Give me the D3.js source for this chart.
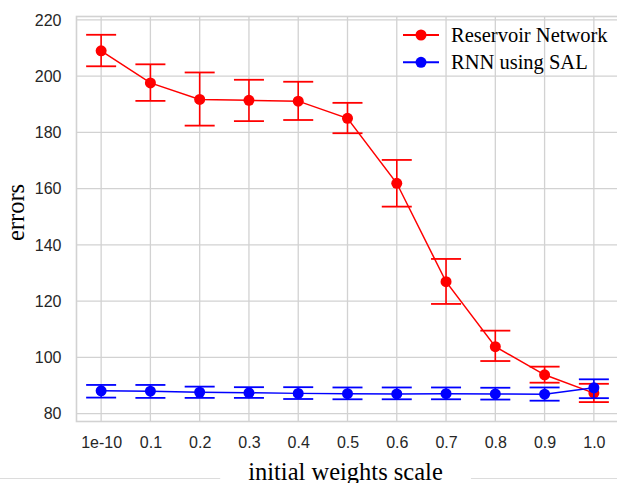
<!DOCTYPE html>
<html>
<head>
<meta charset="utf-8">
<script src="https://cdn.jsdelivr.net/npm/d3@7"></script>
<style>
    html, body { margin: 0; padding: 0; background: #fff; }
    svg { display: block; }
</style>
</head>
<body>
<svg id="chart" width="617" height="483"></svg>
<script>
var categories = ['1e-10', '0.1', '0.2', '0.3', '0.4', '0.5', '0.6', '0.7', '0.8', '0.9', '1.0'];
var yTicks = [80, 100, 120, 140, 160, 180, 200, 220];

// reservoir network: mean, upper and lower end of the error bar
var reservoirMean = [209.0, 197.6, 191.7, 191.4, 191.1, 185.0, 161.9, 126.9, 103.8, 93.8, 87.3];
var reservoirHigh = [214.7, 204.2, 201.3, 198.7, 198.0, 190.5, 170.2, 135.0, 109.5, 96.7, 90.6];
var reservoirLow = [203.5, 191.2, 182.4, 184.0, 184.4, 179.7, 153.6, 119.0, 98.7, 91.0, 84.1];

// rnn using sal
var salMean = [88.1, 88.0, 87.6, 87.4, 87.2, 87.1, 87.0, 87.1, 87.0, 86.9, 89.2];
var salHigh = [90.2, 90.2, 89.6, 89.4, 89.4, 89.3, 89.3, 89.3, 89.2, 89.3, 92.2];
var salLow = [85.7, 85.6, 85.6, 85.6, 85.2, 85.1, 85.1, 85.1, 85.0, 84.6, 85.5];

var series = [
    { name: 'Reservoir Network', color: '#ff0000', mean: reservoirMean, high: reservoirHigh, low: reservoirLow },
    { name: 'RNN using SAL', color: '#0000ff', mean: salMean, high: salHigh, low: salLow }
];

var sans = '"Liberation Sans", Arial, Helvetica, sans-serif';
var serif = '"Liberation Serif", "Times New Roman", Times, serif';
var gridColor = '#d2d2d2';

var svg = d3.select('#chart');
var plotLeft = 76.5;
var plotRight = 618.5;
var plotTop = 16.5;
var plotBottom = 421.5;

var x = d3.scalePoint()
    .domain(categories)
    .range([plotLeft, plotRight])
    .padding(0.5);

var y = d3.scaleLinear()
    .domain([77.2, 221.2])
    .range([plotBottom, plotTop]);

// grid
var grid = svg.append('g');
grid.selectAll('line.hgrid')
    .data(yTicks)
    .enter().append('line')
    .attr('class', 'hgrid')
    .attr('x1', plotLeft).attr('x2', plotRight)
    .attr('y1', function(d) { return y(d); })
    .attr('y2', function(d) { return y(d); })
    .attr('stroke', gridColor)
    .attr('stroke-width', 1.3);
grid.selectAll('line.vgrid')
    .data(categories)
    .enter().append('line')
    .attr('class', 'vgrid')
    .attr('x1', function(d) { return x(d); })
    .attr('x2', function(d) { return x(d); })
    .attr('y1', plotTop).attr('y2', plotBottom)
    .attr('stroke', gridColor)
    .attr('stroke-width', 1.3);

// frame (right edge falls outside the picture)
svg.append('rect')
    .attr('x', plotLeft).attr('y', plotTop)
    .attr('width', plotRight - plotLeft).attr('height', plotBottom - plotTop)
    .attr('fill', 'none')
    .attr('stroke', gridColor)
    .attr('stroke-width', 1.6);

// axes
var yAxis = svg.append('g')
    .attr('transform', 'translate(' + plotLeft + ',0)')
    .call(d3.axisLeft(y).tickValues(yTicks).tickSize(0).tickPadding(15));
var xAxis = svg.append('g')
    .attr('transform', 'translate(0,' + plotBottom + ')')
    .call(d3.axisBottom(x).tickSize(0).tickPadding(15));

[xAxis, yAxis].forEach(function(axis) {
    axis.select('.domain').remove();
    axis.selectAll('text')
        .attr('fill', '#262626')
        .style('font-family', sans)
        .style('font-size', '16px');
});

// series
var line = d3.line()
    .x(function(d) { return x(d.cat); })
    .y(function(d) { return y(d.mean); });

var capHalf = 15;

series.forEach(function(s) {
    var points = categories.map(function(c, i) {
        return { cat: c, mean: s.mean[i], high: s.high[i], low: s.low[i] };
    });
    var g = svg.append('g');

    g.append('path')
        .datum(points)
        .attr('d', line)
        .attr('fill', 'none')
        .attr('stroke', s.color)
        .attr('stroke-width', 1.5);

    var bars = g.selectAll('g.err')
        .data(points)
        .enter().append('g')
        .attr('class', 'err');

    bars.append('line')
        .attr('x1', function(d) { return x(d.cat); })
        .attr('x2', function(d) { return x(d.cat); })
        .attr('y1', function(d) { return y(d.high); })
        .attr('y2', function(d) { return y(d.low); })
        .attr('stroke', s.color)
        .attr('stroke-width', 1.6);

    ['high', 'low'].forEach(function(key) {
        bars.append('line')
            .attr('x1', function(d) { return x(d.cat) - capHalf; })
            .attr('x2', function(d) { return x(d.cat) + capHalf; })
            .attr('y1', function(d) { return y(d[key]); })
            .attr('y2', function(d) { return y(d[key]); })
            .attr('stroke', s.color)
            .attr('stroke-width', 1.8);
    });

    bars.append('circle')
        .attr('cx', function(d) { return x(d.cat); })
        .attr('cy', function(d) { return y(d.mean); })
        .attr('r', 5.5)
        .attr('fill', s.color);
});

// legend, no box
var legend = svg.append('g')
    .attr('transform', 'translate(403,35)');
var items = legend.selectAll('g')
    .data(series)
    .enter().append('g')
    .attr('transform', function(d, i) { return 'translate(0,' + (i * 27.3) + ')'; });
items.append('line')
    .attr('x1', 0).attr('x2', 36)
    .attr('stroke', function(d) { return d.color; })
    .attr('stroke-width', 2);
items.append('circle')
    .attr('cx', 18)
    .attr('r', 5.5)
    .attr('fill', function(d) { return d.color; });
items.append('text')
    .attr('x', 48)
    .attr('y', 6.8)
    .attr('fill', '#000')
    .style('font-family', serif)
    .style('font-size', '20.5px')
    .text(function(d) { return d.name; });

// axis titles
svg.append('text')
    .attr('transform', 'translate(24,212.5) rotate(-90)')
    .attr('text-anchor', 'middle')
    .attr('fill', '#000')
    .style('font-family', serif)
    .style('font-size', '24.5px')
    .text('errors');

// thin rule under the chart, broken by the x title
var ruleY = 478.5;
svg.append('line')
    .attr('x1', 0).attr('x2', 617)
    .attr('y1', ruleY).attr('y2', ruleY)
    .attr('stroke', '#dcdcdc')
    .attr('stroke-width', 1);

var ruleGap = svg.append('rect')
    .attr('fill', '#fff');

var xTitle = svg.append('text')
    .attr('x', (plotLeft + plotRight) / 2 - 2)
    .attr('y', 480)
    .attr('text-anchor', 'middle')
    .attr('fill', '#000')
    .style('font-family', serif)
    .style('font-size', '24.5px')
    .text('initial weights scale');

var box = xTitle.node().getBBox();
ruleGap
    .attr('x', box.x - 28).attr('y', ruleY - 2)
    .attr('width', box.width + 56).attr('height', 4);
</script>
</body>
</html>
